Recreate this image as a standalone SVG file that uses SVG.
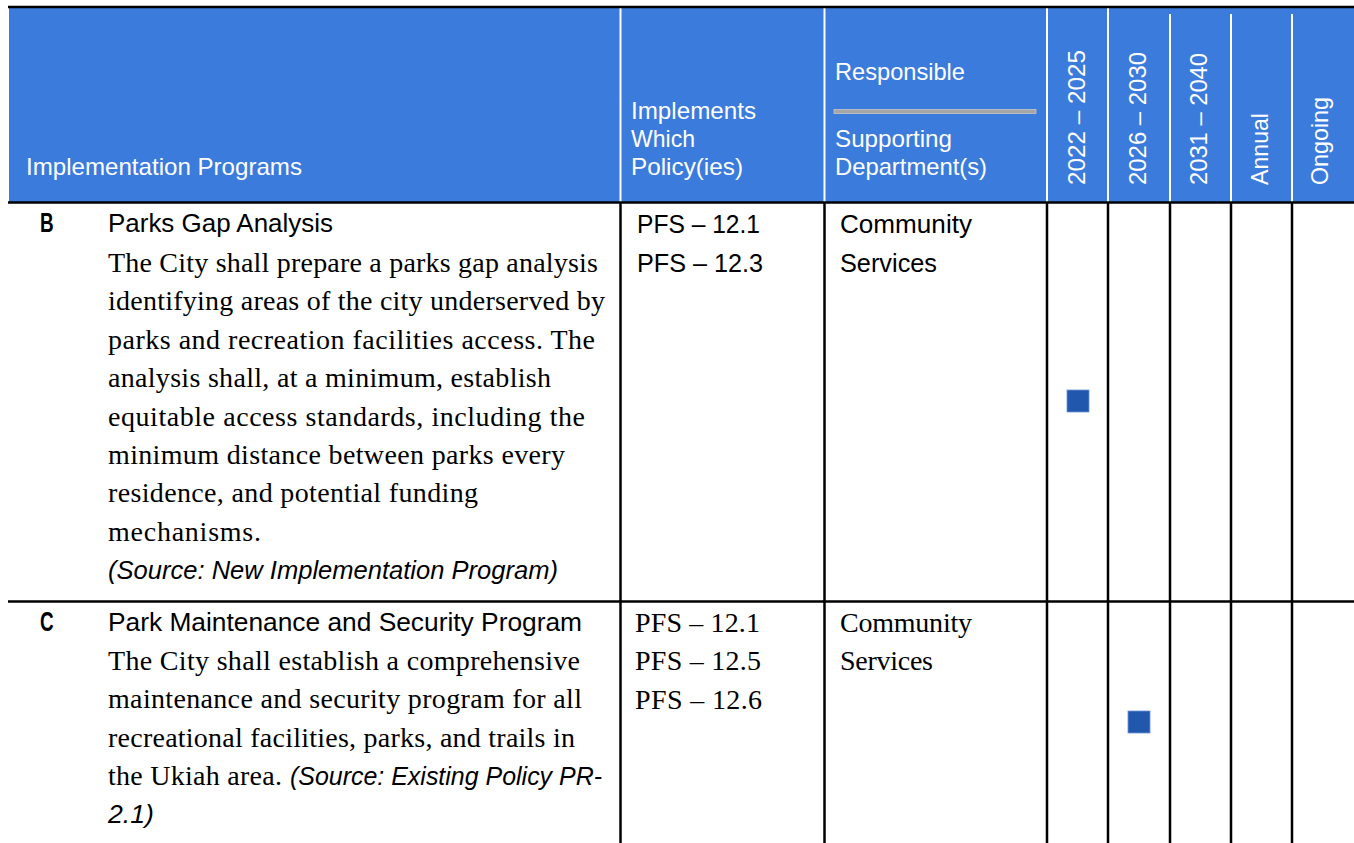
<svg xmlns="http://www.w3.org/2000/svg" width="1354" height="843" viewBox="0 0 1354 843">
<style>
.hd{font-family:"Liberation Sans",Arial,sans-serif;font-size:24px;fill:#ffffff}
.ttl{font-family:"Liberation Sans",Arial,sans-serif;font-size:26px;fill:#000}
.lt{font-family:"Liberation Sans",Arial,sans-serif;font-size:27px;font-weight:bold;fill:#000}
.sans{font-family:"Liberation Sans",Arial,sans-serif;font-size:25px;fill:#000}
.ser{font-family:"Liberation Serif","Times New Roman",serif;font-size:28px;fill:#000}
.it{font-family:"Liberation Sans",Arial,sans-serif;font-size:25px;font-style:italic;fill:#000}
.blk{stroke:#000;stroke-width:2.5;fill:none}
.wht{stroke:#fff;stroke-width:2;fill:none}
.mk{fill:#2158AD;stroke:#6f95d4;stroke-width:0.8}
</style>
<rect x="0" y="0" width="1354" height="843" fill="#ffffff"/>
<g id="header">
<rect x="9" y="8" width="1345" height="194" fill="#3B7BDC"/>
<g id="header-dividers">
<line class="wht" x1="620.5" y1="8" x2="620.5" y2="202"/>
<line class="wht" x1="824.5" y1="8" x2="824.5" y2="202"/>
<line class="wht" x1="1047" y1="8" x2="1047" y2="202"/>
<line class="wht" x1="1108" y1="8" x2="1108" y2="202"/>
<line class="wht" x1="1170" y1="14" x2="1170" y2="202"/>
<line class="wht" x1="1231" y1="14" x2="1231" y2="202"/>
<line class="wht" x1="1292" y1="14" x2="1292" y2="202"/>
</g>
<g id="h-programs"><text class="hd" x="26" y="175" textLength="276" lengthAdjust="spacingAndGlyphs">Implementation Programs</text></g>
<g id="h-policies">
<text class="hd" x="631" y="119" textLength="125" lengthAdjust="spacingAndGlyphs">Implements</text>
<text class="hd" x="631" y="147" textLength="64" lengthAdjust="spacingAndGlyphs">Which</text>
<text class="hd" x="631" y="175" textLength="112" lengthAdjust="spacingAndGlyphs">Policy(ies)</text>
</g>
<g id="h-responsible">
<text class="hd" x="835" y="80" textLength="130" lengthAdjust="spacingAndGlyphs">Responsible</text>
<rect x="834" y="109.5" width="202" height="4" fill="#a6a6a6" stroke="#c8c8c8" stroke-width="0.8"/>
<text class="hd" x="835" y="147" textLength="117" lengthAdjust="spacingAndGlyphs">Supporting</text>
<text class="hd" x="835" y="175" textLength="152" lengthAdjust="spacingAndGlyphs">Department(s)</text>
</g>
<g id="h-2022"><text class="hd" transform="translate(1085,185) rotate(-90)" textLength="135" lengthAdjust="spacingAndGlyphs">2022 – 2025</text></g>
<g id="h-2026"><text class="hd" transform="translate(1146,185) rotate(-90)" textLength="133" lengthAdjust="spacingAndGlyphs">2026 – 2030</text></g>
<g id="h-2031"><text class="hd" transform="translate(1207,185) rotate(-90)" textLength="132" lengthAdjust="spacingAndGlyphs">2031 – 2040</text></g>
<g id="h-annual"><text class="hd" transform="translate(1268,185) rotate(-90)" textLength="72" lengthAdjust="spacingAndGlyphs">Annual</text></g>
<g id="h-ongoing"><text class="hd" transform="translate(1328,185) rotate(-90)" textLength="88" lengthAdjust="spacingAndGlyphs">Ongoing</text></g>
</g>
<g id="grid">
<line class="blk" x1="8" y1="7" x2="1354" y2="7"/>
<line class="blk" x1="8" y1="202.5" x2="1354" y2="202.5"/>
<line class="blk" x1="8" y1="601.5" x2="1354" y2="601.5"/>
<line class="blk" x1="620.5" y1="202" x2="620.5" y2="843"/>
<line class="blk" x1="824.5" y1="202" x2="824.5" y2="843"/>
<line class="blk" x1="1047" y1="202" x2="1047" y2="843"/>
<line class="blk" x1="1108" y1="202" x2="1108" y2="843"/>
<line class="blk" x1="1170" y1="202" x2="1170" y2="843"/>
<line class="blk" x1="1231" y1="202" x2="1231" y2="843"/>
<line class="blk" x1="1292" y1="202" x2="1292" y2="843"/>
</g>
<g id="row-B">
<text class="lt" transform="translate(40,232) scale(0.7,1)">B</text>
<text class="ttl" x="108" y="232" textLength="225" lengthAdjust="spacingAndGlyphs">Parks Gap Analysis</text>
<text class="ser" x="108" y="271.5" textLength="490" lengthAdjust="spacing">The City shall prepare a parks gap analysis</text>
<text class="ser" x="108" y="310" textLength="497" lengthAdjust="spacing">identifying areas of the city underserved by</text>
<text class="ser" x="108" y="348.5" textLength="487" lengthAdjust="spacing">parks and recreation facilities access. The</text>
<text class="ser" x="108" y="387" textLength="443" lengthAdjust="spacing">analysis shall, at a minimum, establish</text>
<text class="ser" x="108" y="425.5" textLength="477" lengthAdjust="spacing">equitable access standards, including the</text>
<text class="ser" x="108" y="464" textLength="457" lengthAdjust="spacing">minimum distance between parks every</text>
<text class="ser" x="108" y="502" textLength="370" lengthAdjust="spacing">residence, and potential funding</text>
<text class="ser" x="108" y="540.5" textLength="153" lengthAdjust="spacing">mechanisms.</text>
<text class="it" x="108" y="578.5" textLength="450" lengthAdjust="spacingAndGlyphs">(Source: New Implementation Program)</text>
<text class="sans" x="637" y="233" textLength="123" lengthAdjust="spacingAndGlyphs">PFS – 12.1</text>
<text class="sans" x="637" y="271.5" textLength="126" lengthAdjust="spacingAndGlyphs">PFS – 12.3</text>
<text class="sans" x="840" y="233" textLength="132" lengthAdjust="spacingAndGlyphs">Community</text>
<text class="sans" x="840" y="271.5" textLength="97" lengthAdjust="spacingAndGlyphs">Services</text>
<rect class="mk" x="1067" y="390" width="22" height="22"/>
</g>
<g id="row-C">
<text class="lt" transform="translate(40,631) scale(0.7,1)">C</text>
<text class="ttl" x="108" y="631" textLength="474" lengthAdjust="spacingAndGlyphs">Park Maintenance and Security Program</text>
<text class="ser" x="108" y="669.5" textLength="472" lengthAdjust="spacing">The City shall establish a comprehensive</text>
<text class="ser" x="108" y="708" textLength="474" lengthAdjust="spacing">maintenance and security program for all</text>
<text class="ser" x="108" y="746.5" textLength="467" lengthAdjust="spacing">recreational facilities, parks, and trails in</text>
<text class="ser" x="108" y="785" textLength="174" lengthAdjust="spacing">the Ukiah area.</text>
<text class="it" x="290" y="785" textLength="312" lengthAdjust="spacingAndGlyphs">(Source: Existing Policy PR-</text>
<text class="it" x="108" y="823" textLength="46" lengthAdjust="spacingAndGlyphs">2.1)</text>
<text class="ser" x="635" y="631.5" textLength="125" lengthAdjust="spacing">PFS – 12.1</text>
<text class="ser" x="635" y="670" textLength="126" lengthAdjust="spacing">PFS – 12.5</text>
<text class="ser" x="635" y="708.5" textLength="127" lengthAdjust="spacing">PFS – 12.6</text>
<text class="ser" x="840" y="631.5" textLength="132" lengthAdjust="spacing">Community</text>
<text class="ser" x="840" y="670" textLength="93" lengthAdjust="spacing">Services</text>
<rect class="mk" x="1128" y="711" width="22" height="22"/>
</g>
</svg>
